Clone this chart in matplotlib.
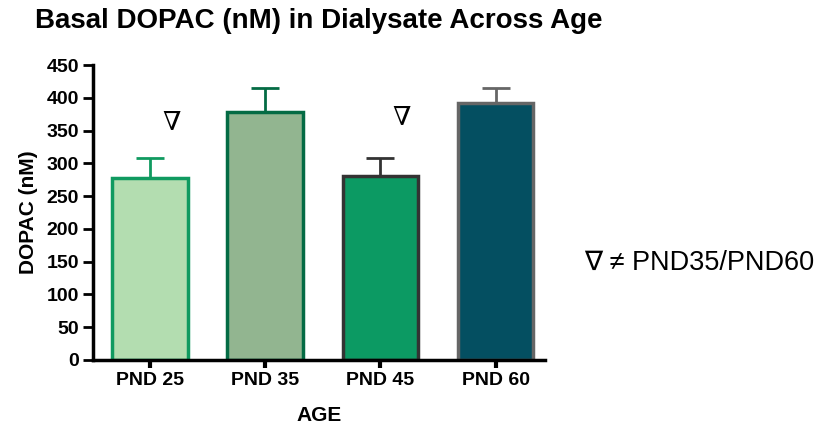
import matplotlib
matplotlib.use("Agg")
import matplotlib.pyplot as plt
import numpy as np

plt.rcParams['font.family'] = ['Liberation Sans', 'DejaVu Sans']

categories = ["PND 25", "PND 35", "PND 45", "PND 60"]
means = [278, 379, 281, 392]
sem = [30, 36, 27, 23]
fill_colors = ["#b3ddb0", "#92b590", "#0c9a63", "#044f61"]
edge_colors = ["#109a60", "#046b44", "#333333", "#666666"]
sig_marks = ["∇", "", "∇", ""]
sig_y = [364, 0, 371, 0]
yticks = list(range(0, 451, 50))

fig = plt.figure(figsize=(8.22, 4.28), dpi=100)
ax = fig.add_axes([0.113, 0.159, 0.55, 0.689])

x = np.arange(len(categories))
for i in range(len(categories)):
    ax.errorbar(x[i], means[i], yerr=[[0], [sem[i]]], fmt='none',
                ecolor=edge_colors[i], elinewidth=2, capsize=10, capthick=2, zorder=1)
    ax.bar(x[i], means[i], width=0.66, color=fill_colors[i],
           edgecolor=edge_colors[i], linewidth=2.5, zorder=2)
    if sig_marks[i]:
        ax.text(x[i] + 0.18, sig_y[i], sig_marks[i], ha='center', va='center',
                fontsize=19, family=['DejaVu Serif', 'DejaVu Sans'])

ax.set_xlim(-0.5, 3.43)
ax.set_ylim(0, 450)
ax.set_yticks(yticks)
ax.set_yticklabels([str(t) for t in yticks], fontsize=14, fontweight='bold')
ax.set_xticks(x)
ax.set_xticklabels(categories, fontsize=14, fontweight='bold')
ax.tick_params(axis='y', direction='out', length=7, width=2, pad=3)
ax.tick_params(axis='x', direction='out', length=6, width=3, pad=3)
for s in ['top', 'right']:
    ax.spines[s].set_visible(False)
for s in ['left', 'bottom']:
    ax.spines[s].set_linewidth(2.5)

ax.set_ylabel("DOPAC (nM)", fontsize=15, fontweight='bold', labelpad=6)
ax.set_xlabel("AGE", fontsize=15, fontweight='bold', labelpad=12)

fig.text(0.043, 0.95, "Basal DOPAC (nM) in Dialysate Across Age", fontsize=20,
         fontweight='bold', va='center', ha='left')
fig.text(0.711, 0.385, "∇ ≠ PND35/PND60", fontsize=19.5, va='center', ha='left')

fig.savefig("out.png", dpi=100)
